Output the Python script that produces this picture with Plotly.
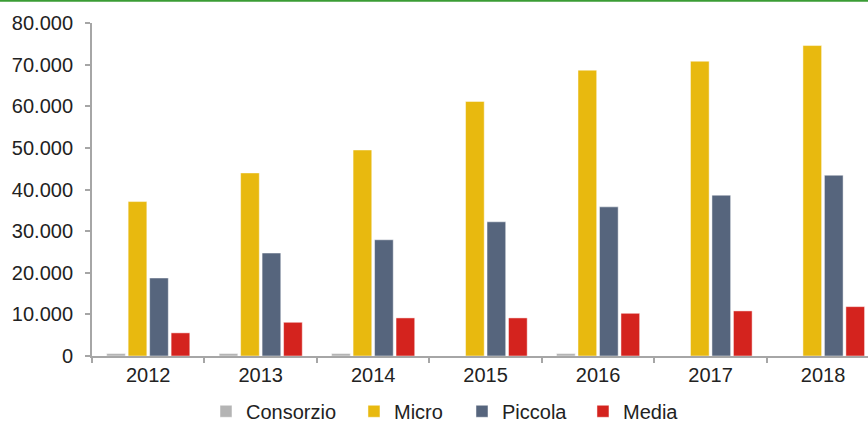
import plotly.graph_objects as go

years = ["2012", "2013", "2014", "2015", "2016", "2017", "2018"]
consorzio = [600, 600, 600, None, 600, None, None]
micro = [37100, 43980, 49490, 61160, 68670, 70820, 74580]
piccola = [18740, 24730, 27920, 32240, 35830, 38630, 43430]
media = [5560, 8100, 9150, 9150, 10260, 10830, 11860]

series = [
    ("Consorzio", consorzio, "#b4b4b4", "legend"),
    ("Micro", micro, "#e8b90f", "legend2"),
    ("Piccola", piccola, "#56657d", "legend3"),
    ("Media", media, "#d4231e", "legend4"),
]

fig = go.Figure()
for name, vals, col, leg in series:
    fig.add_trace(go.Bar(
        x=years, y=vals, name=name, legend=leg,
        marker=dict(color=col, line=dict(color="rgba(255,255,255,0.6)", width=0.8)),
    ))

font_family = "Liberation Sans, Arial, Helvetica, sans-serif"
axis_col = "#a6a6a6"

def leg(x):
    return dict(orientation="h", x=x, xanchor="left", y=-0.166, yanchor="middle",
                font=dict(size=20, color="#222222"), itemwidth=30,
                bgcolor="rgba(0,0,0,0)")

fig.update_layout(
    width=868, height=422,
    margin=dict(l=92, r=0, t=22.7, b=65.5, autoexpand=False),
    paper_bgcolor="white", plot_bgcolor="white",
    separators=",.",
    barmode="group", bargap=0.236, bargroupgap=0.13,
    font=dict(family=font_family, size=20, color="#222222"),
    showlegend=True,
    legend=leg(0.1469), legend2=leg(0.3376), legend3=leg(0.4768), legend4=leg(0.6327),
    xaxis=dict(range=[-0.5, 6.4], showline=True, linecolor=axis_col, linewidth=2,
               ticks="outside", tickson="boundaries", ticklen=5, tickcolor=axis_col, tickwidth=1.5,
               showgrid=False, zeroline=False, tickfont=dict(size=20), automargin=False),
    yaxis=dict(range=[0, 80000], dtick=10000, tickformat=",d", showline=True,
               linecolor=axis_col, linewidth=2, ticks="outside", ticklen=5,
               tickcolor=axis_col, tickwidth=1.5, showgrid=False, zeroline=False,
               ticklabelstandoff=8, tickfont=dict(size=20), automargin=False),
    shapes=[dict(type="line", xref="paper", yref="paper", x0=-0.2, x1=1.2,
                 y0=1.0665, y1=1.0665, line=dict(color="#3a9c35", width=2))],
)

fig.write_html("out.html", config={"displayModeBar": False},
               post_script="document.body.style.margin='0px';")
